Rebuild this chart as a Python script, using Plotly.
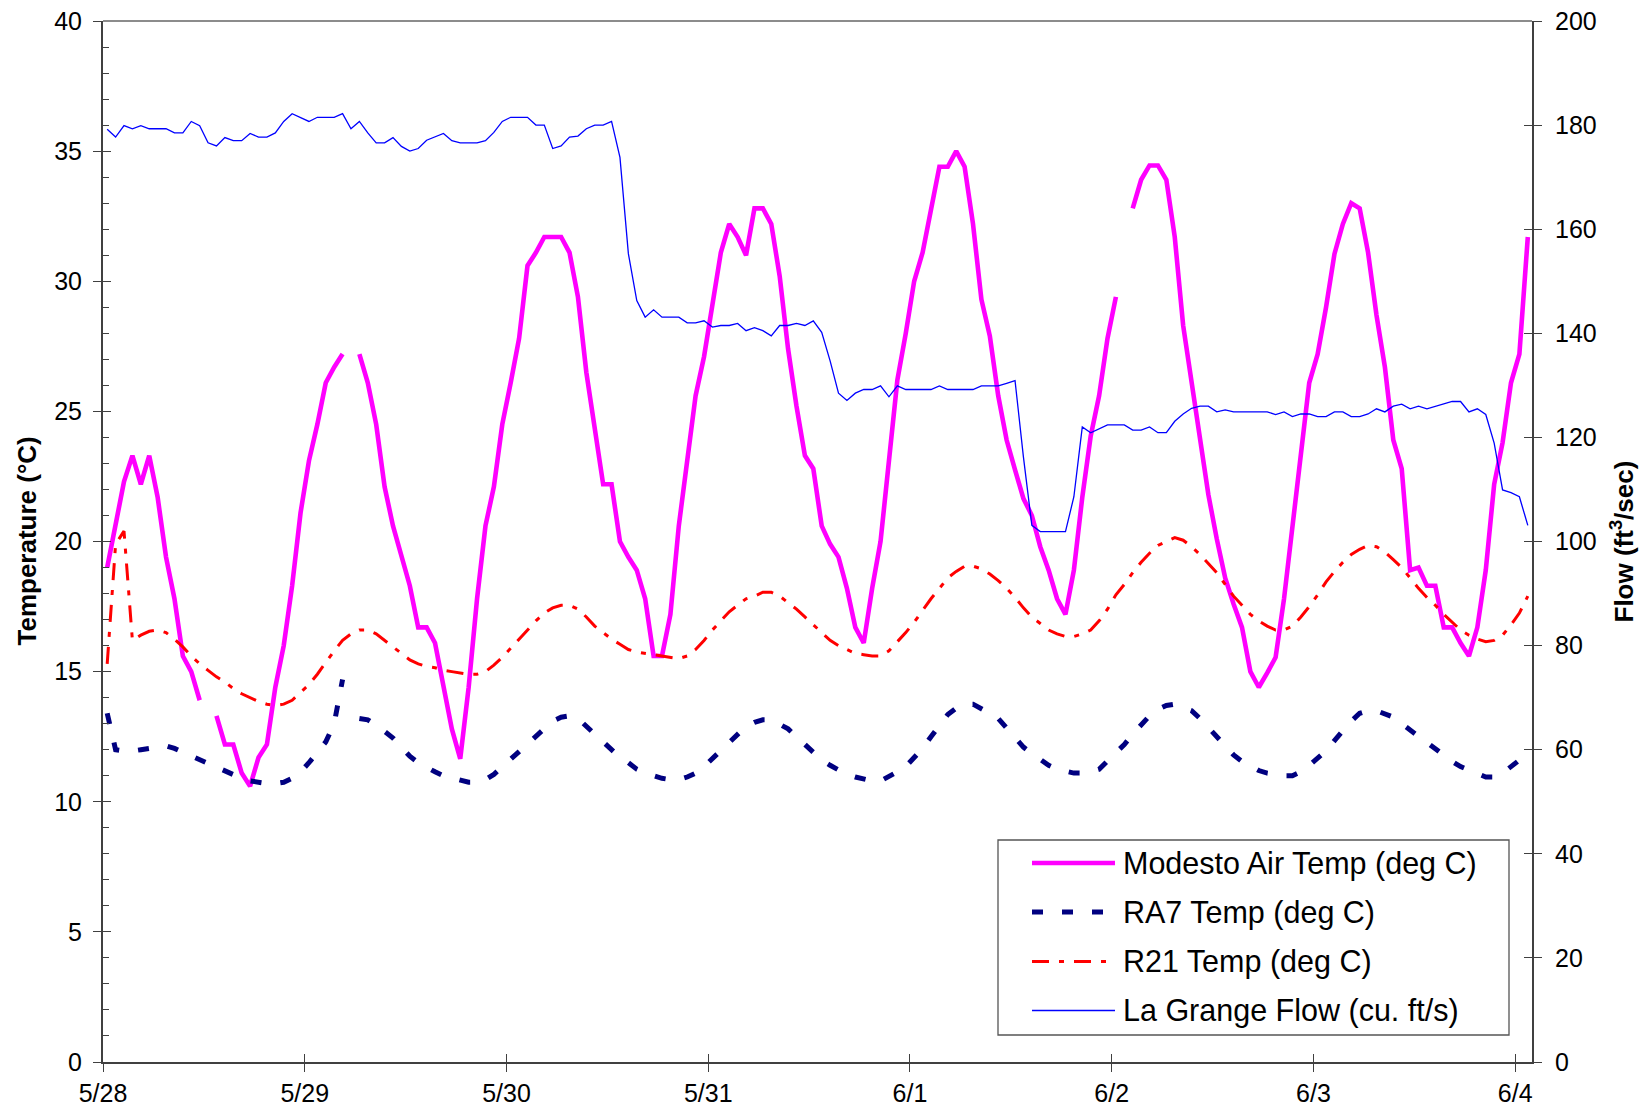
import pandas as pd
import plotly.graph_objects as go

# ---------------- data (hourly readings, first at 5/28 00:30) ----------------
start_time = "2005-05-28 00:30"
n_hours = 170
times = pd.date_range(start_time, periods=n_hours, freq="h")

modesto_air = [
    19.0, 20.7, 22.3, 23.3, 22.2, 23.3, 21.7, 19.4, 17.8, 15.6,
    15.0, 13.9, None, 13.3, 12.2, 12.2, 11.1, 10.6, 11.7, 12.2,
    14.4, 16.0, 18.3, 21.1, 23.1, 24.5, 26.1, 26.7, 27.2, None,
    27.2, 26.1, 24.5, 22.1, 20.6, 19.4, 18.3, 16.7, 16.7, 16.1,
    14.35, 12.8, 11.65, 14.4, 17.8, 20.6, 22.1, 24.5, 26.1, 27.8,
    30.6, 31.1, 31.7, 31.7, 31.7, 31.1, 29.4, 26.5, 24.3, 22.2,
    22.2, 20.0, 19.4, 18.9, 17.8, 15.6, 15.6, 17.2, 20.6, 23.2,
    25.6, 27.1, 29.1, 31.1, 32.2, 31.7, 31.0, 32.8, 32.8, 32.2,
    30.2, 27.4, 25.2, 23.3, 22.8, 20.6, 19.9, 19.4, 18.2, 16.7,
    16.1, 18.2, 20.0, 23.2, 26.2, 28.0, 30.0, 31.1, 32.8, 34.4,
    34.4, 35.0, 34.4, 32.2, 29.3, 27.9, 25.6, 23.9, 22.75, 21.65,
    21.0, 19.8, 18.9, 17.8, 17.2, 18.9, 21.7, 24.05, 25.6, 27.8,
    29.4, None, 32.8, 33.9, 34.45, 34.45, 33.9, 31.7, 28.3, 26.1,
    23.9, 21.8, 20.1, 18.6, 17.6, 16.7, 15.0, 14.4, 14.95, 15.55,
    17.8, 20.5, 23.3, 26.1, 27.2, 29.0, 31.05, 32.2, 33.0, 32.8,
    31.1, 28.7, 26.7, 23.9, 22.8, 18.9, 19.0, 18.3, 18.3, 16.7,
    16.7, 16.1, 15.6, 16.7, 18.9, 22.2, 23.8, 26.1, 27.2, 31.7,
]

ra7_temp = [
    13.4, 12.0, 11.95, 11.95, 12.0, 12.05, 12.1, 12.15, 12.05, 11.9,
    11.75, 11.6, 11.45, 11.3, 11.15, 11.0, 10.9, 10.8, 10.75, 10.7,
    10.7, 10.75, 10.9, 11.15, 11.5, 11.9, 12.3, 13.0, 14.7, None,
    13.2, 13.15, 12.95, 12.7, 12.45, 12.1, 11.75, 11.5, 11.3, 11.15,
    11.0, 10.9, 10.8, 10.75, 10.75, 10.85, 11.05, 11.35, 11.65, 11.95,
    12.25, 12.55, 12.85, 13.1, 13.25, 13.3, 13.2, 12.9, 12.6, 12.3,
    12.0, 11.7, 11.5, 11.25, 11.1, 11.0, 10.9, 10.85, 10.85, 10.95,
    11.1, 11.35, 11.65, 11.95, 12.3, 12.6, 12.9, 13.05, 13.15, 13.15,
    13.0, 12.8, 12.5, 12.2, 11.85, 11.6, 11.4, 11.2, 11.05, 10.95,
    10.85, 10.8, 10.8, 10.95, 11.15, 11.35, 11.7, 12.05, 12.5, 12.95,
    13.35, 13.6, 13.75, 13.75, 13.6, 13.4, 13.2, 12.85, 12.45, 12.1,
    11.85, 11.6, 11.4, 11.25, 11.15, 11.1, 11.1, 11.15, 11.25, 11.55,
    11.9, 12.2, 12.6, 12.95, 13.3, 13.55, 13.7, 13.75, 13.65, 13.5,
    13.2, 12.85, 12.5, 12.15, 11.8, 11.55, 11.35, 11.2, 11.1, 11.05,
    11.0, 11.0, 11.15, 11.4, 11.65, 11.95, 12.35, 12.75, 13.1, 13.4,
    13.5, 13.5, 13.4, 13.25, 13.0, 12.75, 12.5, 12.25, 12.0, 11.75,
    11.55, 11.35, 11.2, 11.05, 10.95, 10.95, 11.1, 11.35, 11.6, 12.0,
]

r21_temp = [
    15.3, 19.9, 20.4, 16.2, 16.4, 16.55, 16.6, 16.5, 16.25, 15.95,
    15.6, 15.3, 15.05, 14.8, 14.6, 14.35, 14.15, 14.0, 13.85, 13.75,
    13.7, 13.75, 13.9, 14.2, 14.5, 14.9, 15.35, 15.8, 16.2, 16.45,
    16.6, 16.6, 16.45, 16.2, 15.95, 15.7, 15.45, 15.3, 15.2, 15.15,
    15.05, 15.0, 14.95, 14.9, 14.9, 15.0, 15.25, 15.55, 15.9, 16.25,
    16.6, 16.95, 17.25, 17.45, 17.55, 17.55, 17.4, 17.1, 16.75, 16.5,
    16.25, 16.05, 15.85, 15.75, 15.7, 15.65, 15.6, 15.55, 15.5, 15.6,
    15.85, 16.2, 16.6, 16.95, 17.3, 17.55, 17.8, 17.9, 18.05, 18.05,
    17.9, 17.65, 17.4, 17.1, 16.8, 16.5, 16.2, 16.0, 15.85, 15.7,
    15.65, 15.6, 15.6, 15.8, 16.15, 16.5, 16.9, 17.35, 17.8, 18.2,
    18.6, 18.85, 19.05, 19.05, 18.95, 18.75, 18.5, 18.2, 17.85, 17.45,
    17.1, 16.85, 16.6, 16.45, 16.35, 16.35, 16.45, 16.6, 16.95, 17.4,
    17.95, 18.35, 18.8, 19.2, 19.55, 19.85, 20.0, 20.15, 20.05, 19.8,
    19.5, 19.15, 18.8, 18.35, 17.9, 17.55, 17.2, 16.95, 16.75, 16.6,
    16.6, 16.75, 17.1, 17.5, 17.95, 18.45, 18.85, 19.2, 19.5, 19.7,
    19.85, 19.8, 19.6, 19.3, 19.0, 18.6, 18.2, 17.85, 17.55, 17.2,
    16.9, 16.6, 16.4, 16.25, 16.15, 16.2, 16.4, 16.8, 17.25, 17.9,
]

lagrange_flow = [
    179.2, 177.7, 179.9, 179.3, 179.9, 179.3, 179.3, 179.3, 178.5, 178.5,
    180.7, 179.9, 176.6, 176.0, 177.6, 177.0, 177.0, 178.4, 177.7, 177.7,
    178.5, 180.7, 182.2, 181.4, 180.7, 181.5, 181.5, 181.5, 182.2, 179.3,
    180.7, 178.5, 176.6, 176.6, 177.6, 175.9, 175.0, 175.5, 177.1, 177.7,
    178.4, 177.0, 176.6, 176.6, 176.6, 177.0, 178.6, 180.7, 181.5, 181.5,
    181.5, 180.0, 180.0, 175.5, 176.0, 177.7, 177.9, 179.3, 180.0, 180.0,
    180.7, 173.8, 155.3, 146.3, 143.1, 144.5, 143.1, 143.1, 143.1, 142.0,
    142.0, 142.4, 141.2, 141.5, 141.5, 141.9, 140.5, 141.1, 140.5, 139.5,
    141.5, 141.5, 141.9, 141.5, 142.4, 140.2, 134.7, 128.5, 127.1, 128.5,
    129.2, 129.2, 129.9, 127.8, 129.9, 129.2, 129.2, 129.2, 129.2, 129.9,
    129.2, 129.2, 129.2, 129.2, 129.9, 129.9, 129.9, 130.4, 130.9, 116.2,
    103.1, 101.9, 101.9, 101.9, 101.9, 108.6, 122.0, 120.9, 121.6, 122.4,
    122.4, 122.4, 121.4, 121.4, 122.0, 120.9, 120.9, 123.1, 124.5, 125.6,
    126.0, 126.0, 124.9, 125.3, 124.9, 124.9, 124.9, 124.9, 124.9, 124.4,
    124.9, 124.0, 124.5, 124.5, 124.0, 124.0, 124.9, 124.9, 124.0, 124.0,
    124.5, 125.5, 124.9, 126.0, 126.4, 125.5, 126.0, 125.5, 126.0, 126.4,
    126.9, 126.9, 124.9, 125.5, 124.4, 118.9, 109.9, 109.4, 108.6, 103.1,
]

series_names = [
    "Modesto Air Temp (deg C)",
    "RA7 Temp (deg C)",
    "R21 Temp (deg C)",
    "La Grange Flow (cu. ft/s)",
]

temp_ticks = [0, 5, 10, 15, 20, 25, 30, 35, 40]
flow_ticks = [0, 20, 40, 60, 80, 100, 120, 140, 160, 180, 200]
x_range = ["2005-05-28 00:00", "2005-06-04 02:00"]

# ---------------- styles ----------------
FONT = "Liberation Sans, Arial, sans-serif"
AXC = "#404040"
styles = [
    dict(color="#FF00FF", width=4.6, dash="solid"),
    dict(color="#000080", width=5, dash="11px,19px"),
    dict(color="#FF0000", width=3, dash="17px,10px,5px,10px"),
    dict(color="#0000FF", width=1.3, dash="solid"),
]

fig = go.Figure()
fig.add_trace(go.Scatter(x=times, y=modesto_air, mode="lines", name=series_names[0],
                         line=styles[0], connectgaps=False, xaxis="x", yaxis="y"))
fig.add_trace(go.Scatter(x=times, y=ra7_temp, mode="lines", name=series_names[1],
                         line=styles[1], connectgaps=False, xaxis="x", yaxis="y"))
fig.add_trace(go.Scatter(x=times, y=r21_temp, mode="lines", name=series_names[2],
                         line=styles[2], connectgaps=False, xaxis="x", yaxis="y"))
fig.add_trace(go.Scatter(x=times, y=lagrange_flow, mode="lines", name=series_names[3],
                         line=styles[3], xaxis="x", yaxis="y2"))

# empty helper traces so the overlay tick-only axes are drawn
fig.add_trace(go.Scatter(x=[], y=[], xaxis="x2", yaxis="y", showlegend=False, hoverinfo="skip"))
fig.add_trace(go.Scatter(x=[], y=[], xaxis="x", yaxis="y3", showlegend=False, hoverinfo="skip"))
fig.add_trace(go.Scatter(x=[], y=[], xaxis="x", yaxis="y4", showlegend=False, hoverinfo="skip"))

tickfont = dict(family=FONT, size=25, color="black")
DAY = 86400000

fig.update_layout(
    template="none",
    width=1641, height=1114,
    margin=dict(l=103, r=109, t=21, b=52, autoexpand=False),
    paper_bgcolor="white", plot_bgcolor="white",
    showlegend=False,
    font=dict(family=FONT, color="black"),
    xaxis=dict(
        type="date", range=x_range, tick0="2005-05-28", dtick=DAY, automargin=False,
        tickformat="%-m/%-d", ticks="outside", ticklen=8, tickwidth=1.3, tickcolor=AXC,
        showline=True, linecolor=AXC, linewidth=2, showgrid=False, zeroline=False,
        tickfont=tickfont, ticklabelstandoff=0,
    ),
    xaxis2=dict(
        type="date", range=x_range, tick0="2005-05-28", dtick=DAY, automargin=False,
        overlaying="x", anchor="y", side="bottom",
        ticks="inside", ticklen=8, tickwidth=1.3, tickcolor=AXC,
        showticklabels=False, showline=False, showgrid=False, zeroline=False,
    ),
    yaxis=dict(
        range=[0, 40], tickvals=temp_ticks, ticks="outside", ticklen=8, tickwidth=1.3,
        tickcolor=AXC, showline=True, linecolor=AXC, linewidth=2, showgrid=False,
        zeroline=False, tickfont=tickfont, ticklabelstandoff=6, automargin=False,
        minor=dict(ticks="inside", dtick=1, ticklen=6, tickwidth=1.3, tickcolor=AXC, showgrid=False),
    ),
    yaxis3=dict(
        range=[0, 40], tickvals=temp_ticks, overlaying="y", anchor="x", side="left",
        ticks="inside", ticklen=8, tickwidth=1.3, tickcolor=AXC, automargin=False,
        showticklabels=False, showline=False, showgrid=False, zeroline=False,
    ),
    yaxis2=dict(
        range=[0, 200], tickvals=flow_ticks, overlaying="y", anchor="x", side="right",
        ticks="outside", ticklen=8, tickwidth=1.3, tickcolor=AXC, automargin=False,
        showline=True, linecolor=AXC, linewidth=2, showgrid=False, zeroline=False,
        tickfont=tickfont, ticklabelstandoff=8,
    ),
    yaxis4=dict(
        range=[0, 200], tickvals=flow_ticks, overlaying="y", anchor="x", side="right",
        ticks="inside", ticklen=8, tickwidth=1.3, tickcolor=AXC, automargin=False,
        showticklabels=False, showline=False, showgrid=False, zeroline=False,
    ),
)

# top border of the plot area
fig.add_shape(type="line", xref="paper", yref="paper", x0=0, x1=1, y0=1, y1=1,
              line=dict(color="#8C8C8C", width=2))

# axis titles
fig.add_annotation(text="<b>Temperature (°C)</b>", xref="paper", yref="paper",
                   x=(26 - 103) / 1429, y=0.5, textangle=-90, showarrow=False,
                   xanchor="center", yanchor="middle",
                   font=dict(family=FONT, size=26, color="black"))
fig.add_annotation(text="<b>Flow (ft<sup>3</sup>/sec)</b>", xref="paper", yref="paper",
                   x=(1623 - 103) / 1429, y=0.5, textangle=-90, showarrow=False,
                   xanchor="center", yanchor="middle",
                   font=dict(family=FONT, size=26, color="black"))

# custom legend (long line samples as in the original)
PW, PH, L, T = 1429.0, 1041.0, 103.0, 21.0
def px_x(p):
    return (p - L) / PW
def px_y(p):
    return (T + PH - p) / PH

fig.add_shape(type="rect", xref="paper", yref="paper",
              x0=px_x(998), x1=px_x(1509), y0=px_y(840), y1=px_y(1035),
              line=dict(color="#555555", width=1.3), fillcolor="white", layer="above")
row_y = [863, 912, 961.5, 1010.5]
for name, st, ry in zip(series_names, styles, row_y):
    fig.add_shape(type="line", xref="paper", yref="paper",
                  x0=px_x(1032), x1=px_x(1115), y0=px_y(ry), y1=px_y(ry),
                  line=dict(color=st["color"], width=st["width"], dash=st["dash"]),
                  layer="above")
    fig.add_annotation(text=name, xref="paper", yref="paper", x=px_x(1121), y=px_y(ry),
                       xanchor="left", yanchor="middle", showarrow=False,
                       font=dict(family=FONT, size=30.5, color="black"))

fig.write_html("out.html", config={"displayModeBar": False},
               post_script="document.body.style.margin='0px';")
